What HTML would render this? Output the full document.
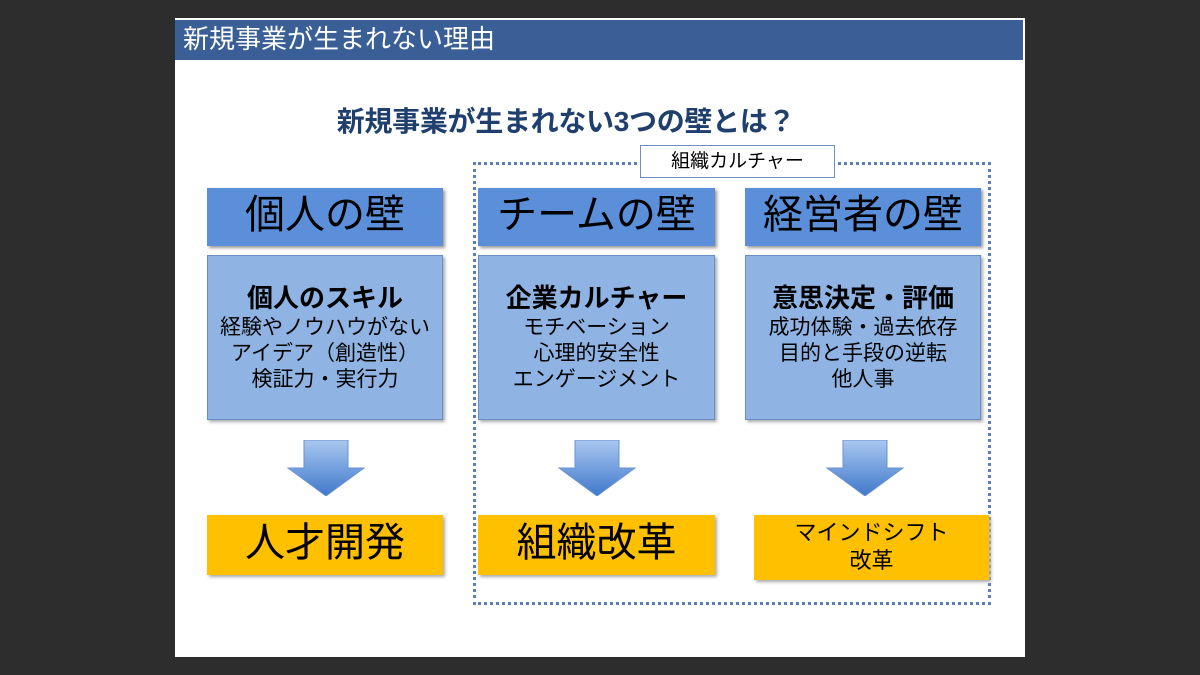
<!DOCTYPE html>
<html><head><meta charset="utf-8"><style>
body{margin:0;width:1200px;height:675px;background:#2d2d2d;position:relative;overflow:hidden;font-family:"Liberation Sans","Noto Sans CJK JP",sans-serif}
.slide{position:absolute;left:175px;top:18px;width:850px;height:639px;background:#fff}
.bar{position:absolute;left:175px;top:20px;width:848px;height:40px;background:#3a5f96;color:#fff;font-size:26px;line-height:38px;padding-left:8px;box-sizing:border-box}
.h{position:absolute;left:266px;width:600px;top:100px;text-align:center;font-size:28px;font-weight:bold;color:#1f3f6e;letter-spacing:-0.3px}
.dash{position:absolute;left:473px;top:162px;width:518px;height:443px;border:3px dotted #5b7fb5;box-sizing:border-box}
.lbl{position:absolute;left:640px;top:145px;width:195px;height:33px;background:#fff;border:1px solid #6f8fc0;box-sizing:border-box;text-align:center;line-height:31px;font-size:19px}
.hd{position:absolute;top:188px;height:58px;background:#5b8fd9;text-align:center;font-size:40px;line-height:54px;box-shadow:2px 2px 3px #999}
.bd{position:absolute;top:255px;height:165px;background:#8fb4e3;border:1px solid #6a8fc5;box-sizing:border-box;text-align:center;font-size:21px;line-height:26px;padding-top:26px;box-shadow:2px 2px 3px #aaa}
.bd b{font-size:26px;display:block;line-height:32px;margin-bottom:1px}
.or{position:absolute;top:515px;height:60px;background:#ffc000;text-align:center;font-size:40px;line-height:56px;box-shadow:2px 2px 3px #aaa}
.arr{position:absolute;top:440px;width:78px;height:56px}
</style></head><body>
<div class="slide"></div>
<div class="bar">新規事業が生まれない理由</div>
<div class="h">新規事業が生まれない3つの壁とは？</div>
<div class="dash"></div>
<div class="lbl">組織カルチャー</div>
<div class="hd" style="left:207px;width:236px">個人の壁</div>
<div class="hd" style="left:478px;width:237px">チームの壁</div>
<div class="hd" style="left:745px;width:236px">経営者の壁</div>
<div class="bd" style="left:207px;width:236px"><b>個人のスキル</b>経験やノウハウがない<br>アイデア（創造性）<br>検証力・実行力</div>
<div class="bd" style="left:478px;width:237px"><b>企業カルチャー</b>モチベーション<br>心理的安全性<br>エンゲージメント</div>
<div class="bd" style="left:745px;width:236px"><b>意思決定・評価</b>成功体験・過去依存<br>目的と手段の逆転<br>他人事</div>
<svg width="0" height="0" style="position:absolute"><defs><linearGradient id="g" x1="0" y1="0" x2="0" y2="1"><stop offset="0" stop-color="#a9c8f0"/><stop offset="1" stop-color="#3f78cc"/></linearGradient></defs></svg>
<svg class="arr" style="left:287px" viewBox="0 0 78 56"><path d="M17 0H61V28H77L39 56L1 28H17Z" fill="url(#g)" stroke="#6b93cf"/></svg>
<svg class="arr" style="left:558px" viewBox="0 0 78 56"><path d="M17 0H61V28H77L39 56L1 28H17Z" fill="url(#g)" stroke="#6b93cf"/></svg>
<svg class="arr" style="left:826px" viewBox="0 0 78 56"><path d="M17 0H61V28H77L39 56L1 28H17Z" fill="url(#g)" stroke="#6b93cf"/></svg>
<div class="or" style="left:207px;width:236px">人才開発</div>
<div class="or" style="left:478px;width:237px">組織改革</div>
<div class="or" style="left:754px;width:235px;height:65px;font-size:22px;line-height:28px;padding-top:4px;box-sizing:border-box">マインドシフト<br>改革</div>
</body></html>
